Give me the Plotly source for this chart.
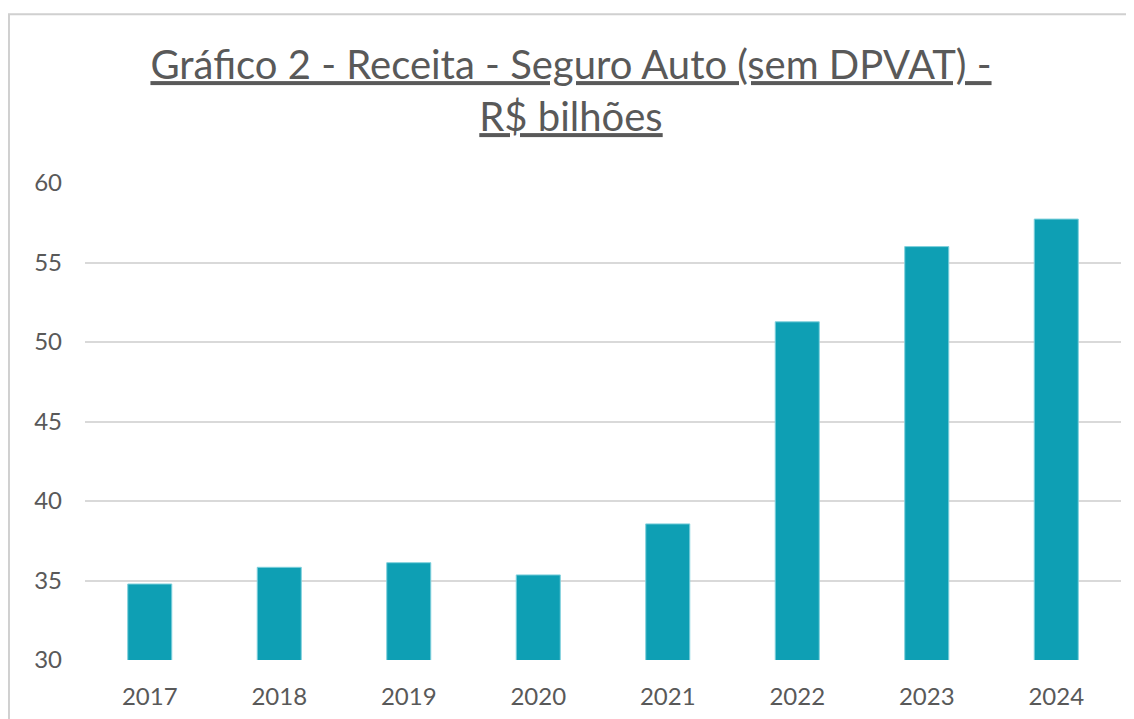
import plotly.graph_objects as go

years = ["2017", "2018", "2019", "2020", "2021", "2022", "2023", "2024"]
receita = [34.78, 35.83, 36.12, 35.35, 38.56, 51.27, 56.0, 57.73]
y_ticks = [30, 35, 40, 45, 50, 55, 60]
title_text = "<u>Gráfico 2 - Receita - Seguro Auto (sem DPVAT) -</u><br><u>R$ bilhões</u>"

fig = go.Figure(go.Bar(
    x=years, y=receita,
    marker=dict(color="#0E9FB4", line=dict(color="#7FD0DC", width=1)),
))

fig.update_layout(
    width=1126, height=711,
    margin=dict(l=77, r=13, t=175, b=59),
    paper_bgcolor="white", plot_bgcolor="white",
    bargap=0.66,
    showlegend=False,
    title=dict(text=title_text, x=0.5, xanchor="center", y=0.90, yanchor="top",
               font=dict(family="Lato", size=40, color="#595959")),
    font=dict(family="Lato", color="#595959", size=24),
    xaxis=dict(showgrid=False, showline=False, ticks="", ticklabelstandoff=20, automargin=False,
               tickfont=dict(size=24, color="#595959")),
    yaxis=dict(range=[30, 60], tickvals=y_ticks, showgrid=True, gridcolor="#D9D9D9", gridwidth=2,
               zeroline=False, showline=False, ticks="", ticklabelstandoff=22, automargin=False,
               tickfont=dict(size=24, color="#595959")),
    shapes=[dict(type="rect", xref="paper", yref="paper", x0=-0.0734, x1=1.2, y0=-0.2, y1=1.354,
                 line=dict(color="#D0D0D0", width=2), layer="below")],
)

fig.write_html("out.html")
